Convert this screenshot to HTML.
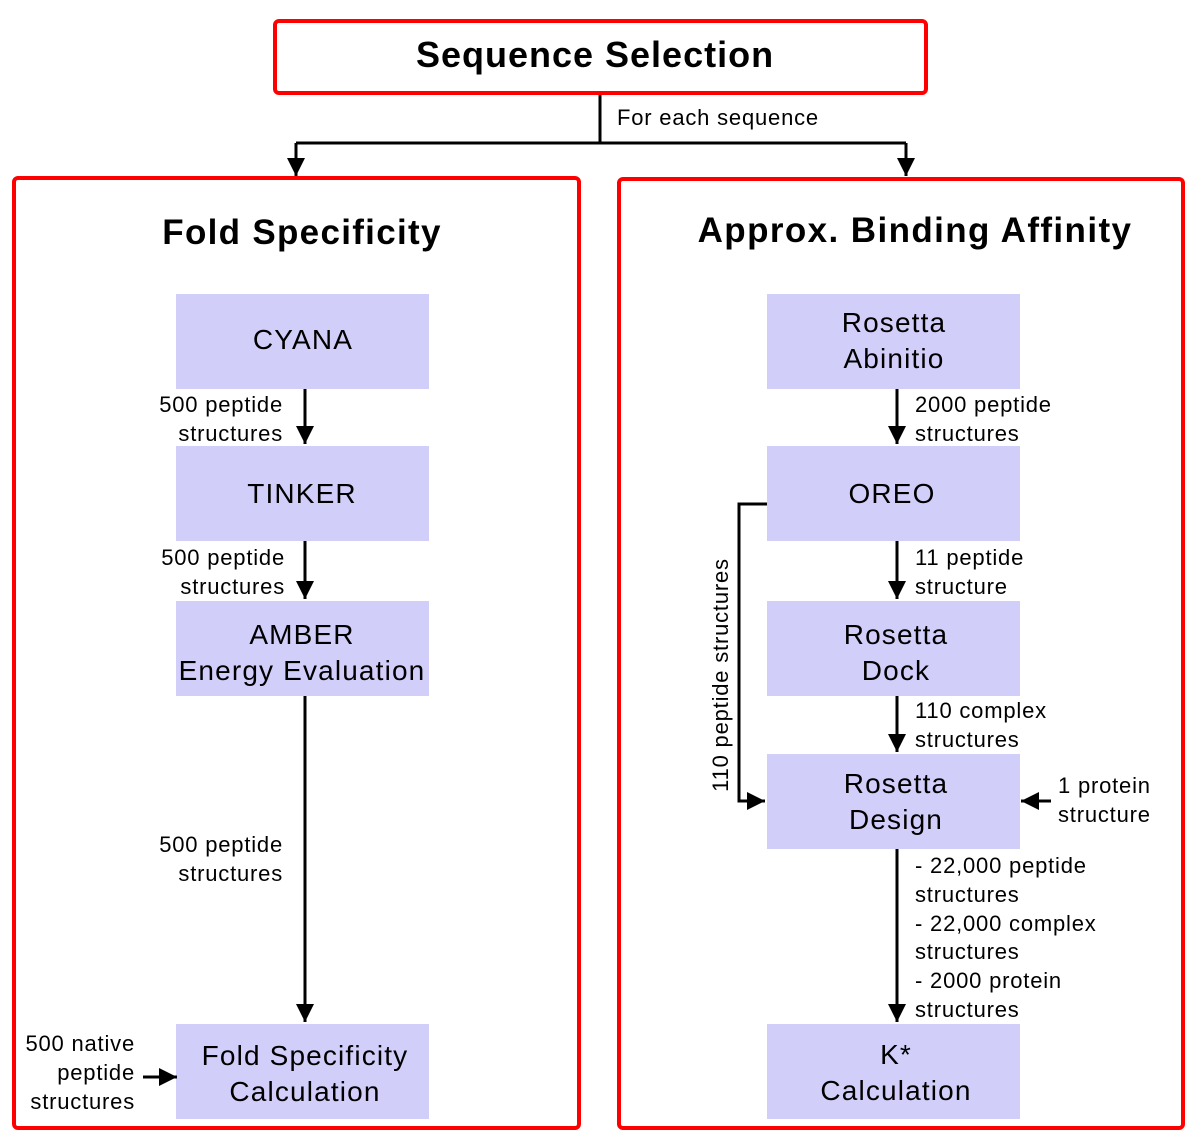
<!DOCTYPE html>
<html><head><meta charset="utf-8"><style>
html,body{margin:0;padding:0;background:#fff}
svg{display:block}
text{font-family:"Liberation Sans",Arial,sans-serif;fill:#000}
.n{font-size:28px;letter-spacing:1.15px}
.l{font-size:22px;letter-spacing:0.8px}
</style></head><body>
<svg width="1200" height="1148" viewBox="0 0 1200 1148" xmlns="http://www.w3.org/2000/svg">
<defs>
<marker id="a" viewBox="0 0 10 10" refX="10" refY="5" markerWidth="6" markerHeight="6" markerUnits="strokeWidth" orient="auto">
<path d="M0,0 L10,5 L0,10 z" fill="#000"/></marker>
</defs>
<rect x="275" y="21" width="651" height="72" rx="4" fill="#fff" stroke="#f00" stroke-width="4"/>
<text x="595" y="67" text-anchor="middle" font-size="36" font-weight="bold" letter-spacing="1">Sequence Selection</text>
<rect x="14" y="178" width="565" height="950" rx="4" fill="none" stroke="#f00" stroke-width="4"/>
<rect x="619" y="179" width="564" height="949" rx="4" fill="none" stroke="#f00" stroke-width="4"/>
<text x="302" y="244" text-anchor="middle" font-size="35" font-weight="bold" letter-spacing="1.3">Fold Specificity</text>
<text x="915" y="242" text-anchor="middle" font-size="35" font-weight="bold" letter-spacing="1.4">Approx. Binding Affinity</text>
<g stroke="#000" stroke-width="3" fill="none">
<path d="M600,95 V143 M296,143 H906"/>
<path d="M296,143 V176" marker-end="url(#a)"/>
<path d="M906,143 V176" marker-end="url(#a)"/>
</g>
<text x="617" y="125" class="l">For each sequence</text>
<g fill="#d2cefa">
<rect x="176" y="294" width="253" height="95"/>
<rect x="176" y="446" width="253" height="95"/>
<rect x="176" y="601" width="253" height="95"/>
<rect x="176" y="1024" width="253" height="95"/>
<rect x="767" y="294" width="253" height="95"/>
<rect x="767" y="446" width="253" height="95"/>
<rect x="767" y="601" width="253" height="95"/>
<rect x="767" y="754" width="253" height="95"/>
<rect x="767" y="1024" width="253" height="95"/>
</g>
<g class="n" text-anchor="middle">
<text x="303" y="349">CYANA</text>
<text x="302" y="503">TINKER</text>
<text x="302" y="644">AMBER</text>
<text x="302" y="680">Energy Evaluation</text>
<text x="305" y="1065">Fold Specificity</text>
<text x="305" y="1101">Calculation</text>
<text x="894" y="332">Rosetta</text>
<text x="894" y="368">Abinitio</text>
<text x="892" y="503">OREO</text>
<text x="896" y="644">Rosetta</text>
<text x="896" y="680">Dock</text>
<text x="896" y="793">Rosetta</text>
<text x="896" y="829">Design</text>
<text x="896" y="1064">K*</text>
<text x="896" y="1100">Calculation</text>
</g>
<g stroke="#000" stroke-width="3" fill="none">
<path d="M305,389 V444" marker-end="url(#a)"/>
<path d="M305,541 V599" marker-end="url(#a)"/>
<path d="M305,696 V1022" marker-end="url(#a)"/>
<path d="M143,1077 H177" marker-end="url(#a)"/>
<path d="M897,389 V444" marker-end="url(#a)"/>
<path d="M897,541 V599" marker-end="url(#a)"/>
<path d="M897,696 V752" marker-end="url(#a)"/>
<path d="M897,849 V1022" marker-end="url(#a)"/>
<path d="M767,504 H739 V801 H765" marker-end="url(#a)"/>
<path d="M1051,801 H1021" marker-end="url(#a)"/>
</g>
<g class="l" text-anchor="end">
<text x="283" y="412">500 peptide</text>
<text x="283" y="441">structures</text>
<text x="285" y="565">500 peptide</text>
<text x="285" y="594">structures</text>
<text x="283" y="852">500 peptide</text>
<text x="283" y="881">structures</text>
<text x="135" y="1051">500 native</text>
<text x="135" y="1080">peptide</text>
<text x="135" y="1109">structures</text>
</g>
<g class="l">
<text x="915" y="412">2000 peptide</text>
<text x="915" y="441">structures</text>
<text x="915" y="565">11 peptide</text>
<text x="915" y="594">structure</text>
<text x="915" y="718">110 complex</text>
<text x="915" y="747">structures</text>
<text x="1058" y="793">1 protein</text>
<text x="1058" y="822">structure</text>
<text x="915" y="873">- 22,000 peptide</text>
<text x="915" y="902">structures</text>
<text x="915" y="931">- 22,000 complex</text>
<text x="915" y="959">structures</text>
<text x="915" y="988">- 2000 protein</text>
<text x="915" y="1017">structures</text>
<text transform="translate(728,675) rotate(-90)" text-anchor="middle">110 peptide structures</text>
</g>
</svg>
</body></html>
